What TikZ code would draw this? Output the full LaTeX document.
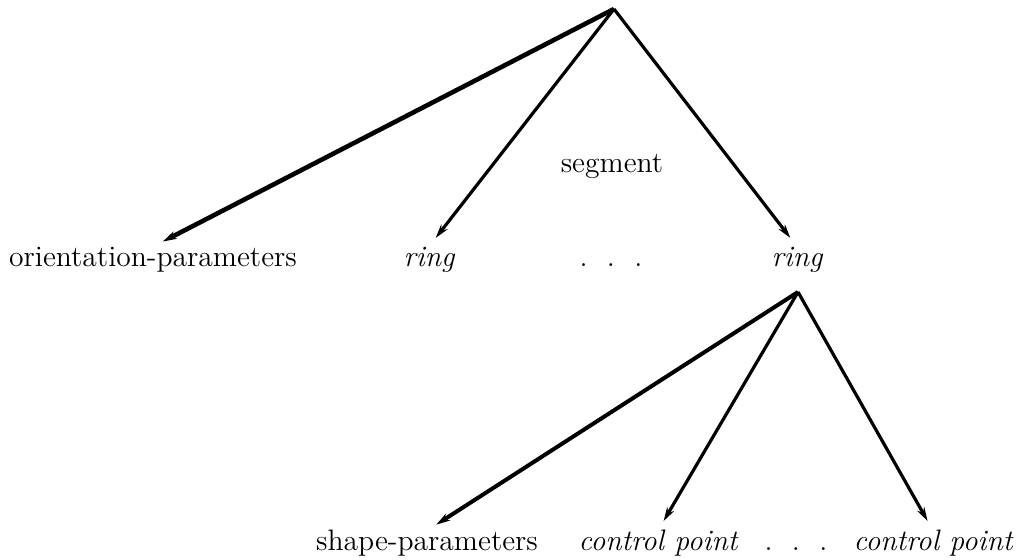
\documentclass[tikz,border=0pt]{standalone}
\usepackage{tikz}
\usetikzlibrary{arrows.meta}

\tikzset{
  lbl/.style={anchor=base, inner sep=0pt, text height=10pt, font=\fontsize{14.8}{17}\selectfont},
  branch/.style={line width=1.6pt, -{Stealth[length=7pt,width=4pt]}, shorten >=5.5pt},
}

\begin{document}
\begin{tikzpicture}[x=0.5pt,y=-0.5pt]
        \useasboundingbox (0,0) rectangle (1018,560);
        % upper tree: segment
        \coordinate (segtop) at (614,9);
        \node[lbl] (seg) at (612,173) {segment};
        \node[lbl] (orient) at (153,267) {orientation-parameters};
        \node[lbl] (ringa) at (429,267) {\itshape ring};
        \node[lbl] (dotsa) at (611,267) {.\ \ .\ \ .};
        \node[lbl] (ringb) at (797,267) {\itshape ring};
        \draw[branch, line width=2.3pt] (segtop) -- (orient.north);
        \draw[branch] (segtop) -- (ringa.north);
        \draw[branch] (segtop) -- (ringb.north);

        % lower tree: ring
        \coordinate (ringtop) at (798,292);
        \node[lbl] (shape) at (427,551) {shape-parameters};
        \node[lbl] (cpa) at (658,551) {\itshape control point};
        \node[lbl] (dotsb) at (796,551) {.\ \ .\ \ .};
        \node[lbl] (cpb) at (933,551) {\itshape control point};
        \draw[branch, line width=2pt] (ringtop) -- (shape.north);
        \draw[branch] (ringtop) -- (cpa.north);
        \draw[branch] (ringtop) -- (cpb.north);
\end{tikzpicture}
\end{document}
